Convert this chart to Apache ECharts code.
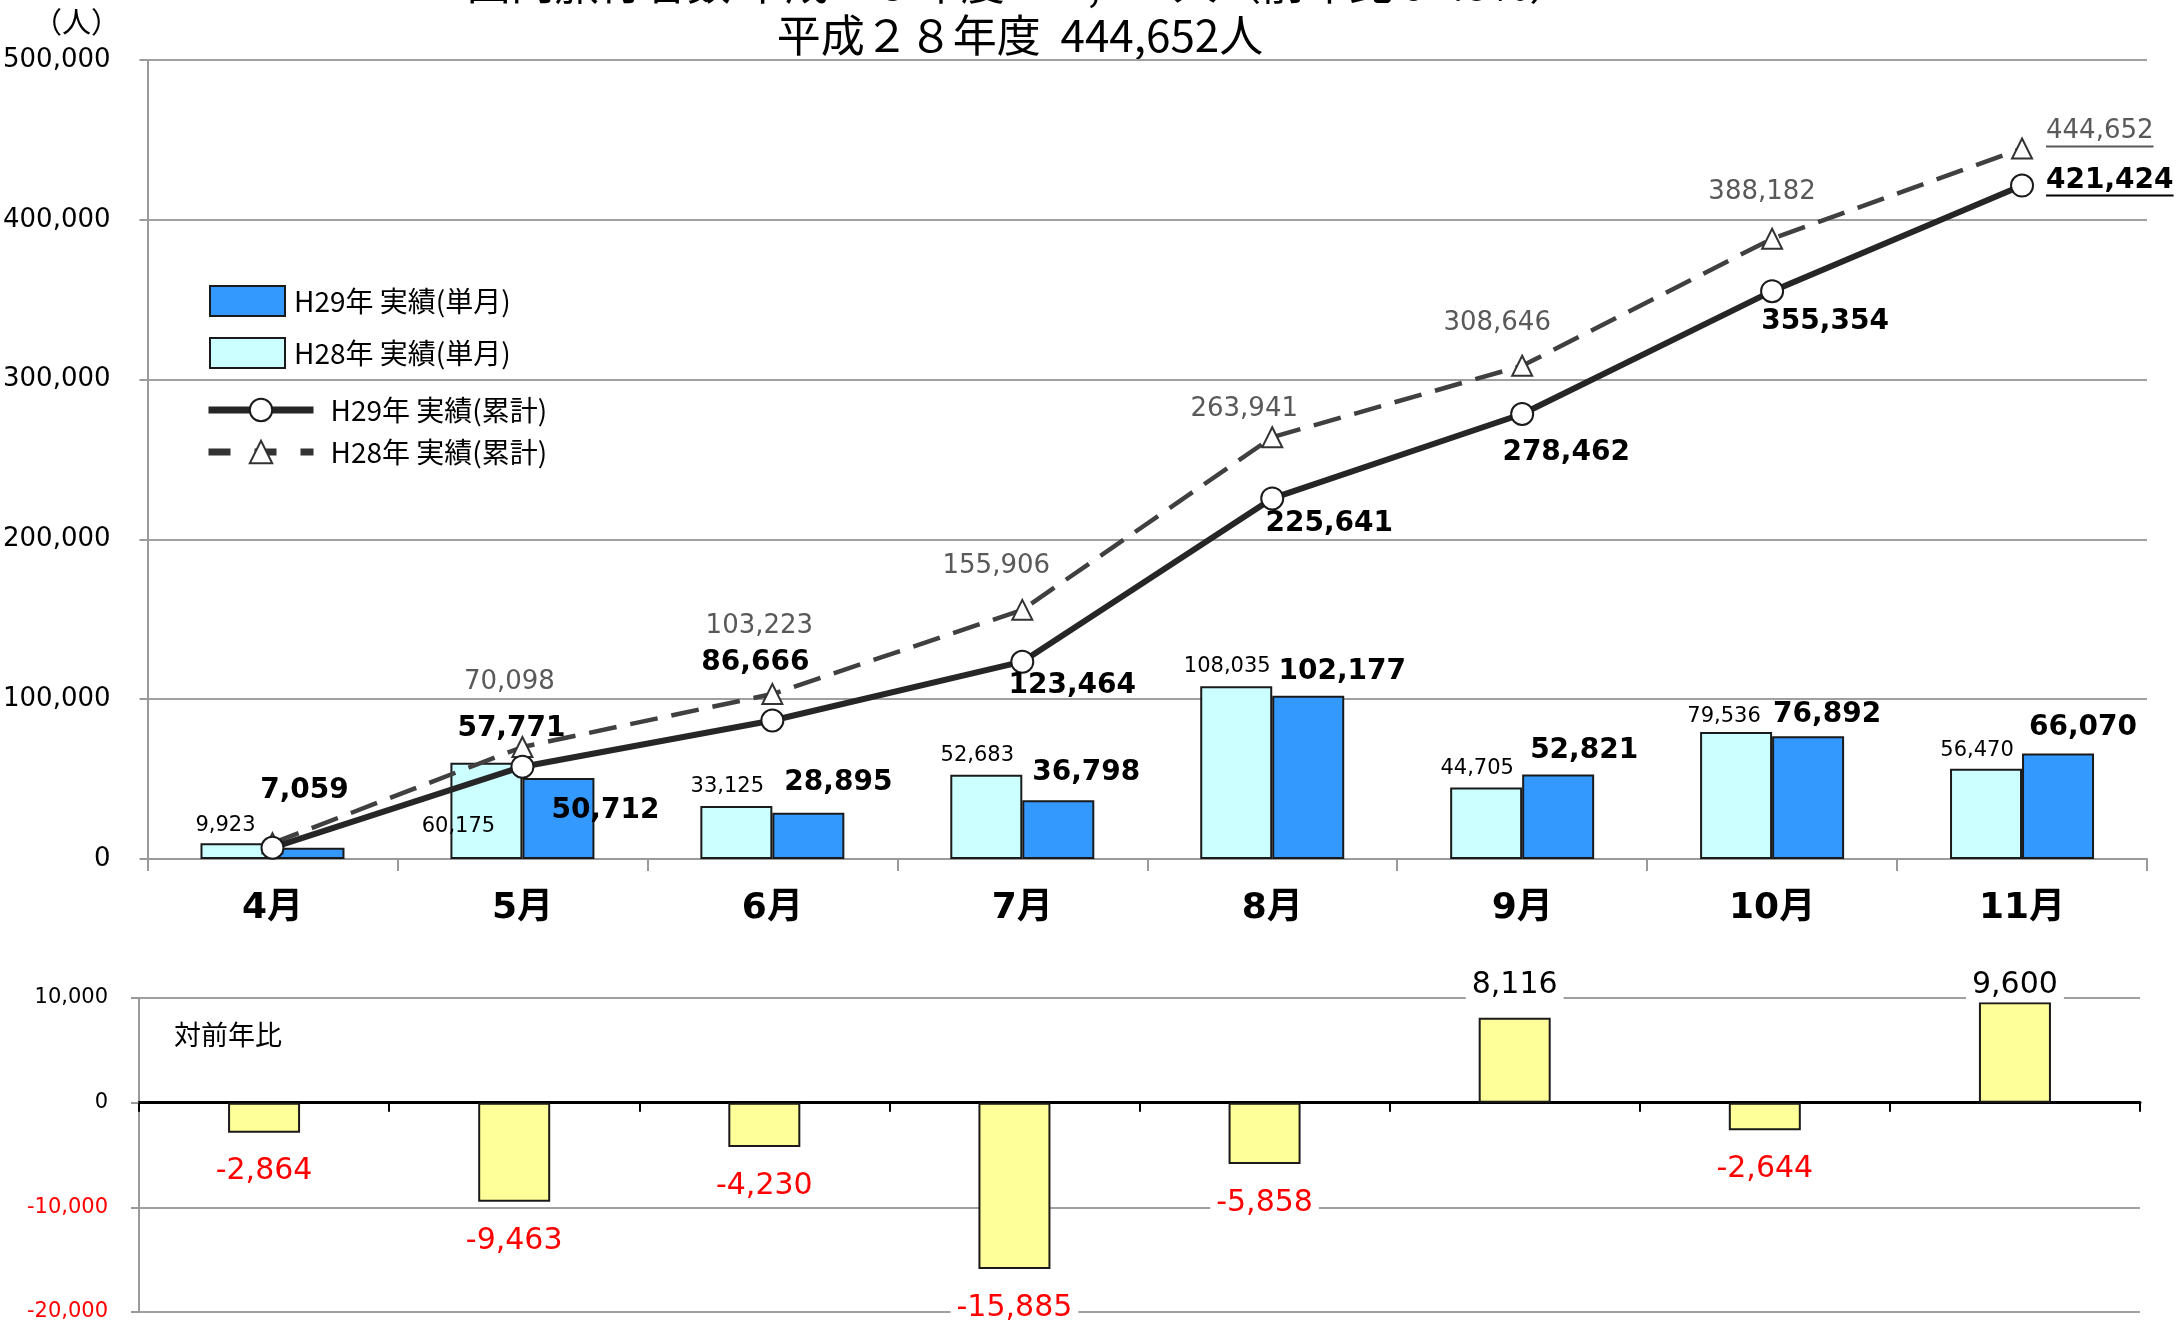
<!DOCTYPE html>
<html><head><meta charset="utf-8">
<script src="https://cdn.jsdelivr.net/npm/echarts@6/dist/echarts.min.js"></script>
<style>html,body{margin:0;padding:0;background:#fff}#c{width:2179px;height:1327px}</style>
</head><body><div id="c"></div>
<script>
// ---- data ----
const categories = ['4月','5月','6月','7月','8月','9月','10月','11月'];
const h28Monthly = [9923, 60175, 33125, 52683, 108035, 44705, 79536, 56470];
const h29Monthly = [7059, 50712, 28895, 36798, 102177, 52821, 76892, 66070];
const h29Cumulative = [7059, 57771, 86666, 123464, 225641, 278462, 355354, 421424];
const h28Cumulative = [9923, 70098, 103223, 155906, 263941, 308646, 388182, 444652];
const yoyDiff = [-2864, -9463, -4230, -15885, -5858, 8116, -2644, 9600];
const seriesNames = ['H29年 実績(単月)', 'H28年 実績(単月)', 'H29年 実績(累計)', 'H28年 実績(累計)'];
const titleLine1 = '国内旅行者数 平成２９年度 421,424人（前年比 94.8%）';
const titleLine2 = '平成２８年度  444,652人';
const unitLabel = '（人）';
const diffLabel = '対前年比';

// ---- styling ----
const NUM = '"DejaVu Sans", "Noto Sans CJK JP", sans-serif';
const JP = '"Noto Sans CJK JP", "DejaVu Sans", sans-serif';
const fmt = v => v.toLocaleString('en-US');

// label offsets (presentation only)
const h28BarOff = [[-11,-7],[-28,74],[-9,-9],[-9,-9],[-9,-9],[-9,-9],[-12,-5],[-9,-8]];
const h29BarOff = [[0,0],[47,47],[30,-16],[28,-13],[34,-10],[26,-10],[19,-7],[25,-12]];
const h29CumOff = [[32,-57],[-11,-38],[-17,-58],[50,24],[57,25],[44,39],[53,31],[24,-5]];
const h28CumOff = [[0,0],[-13,-65],[-13,-68],[-26,-44],[-28,-28],[-25,-43],[-10,-46],[24,-17]];

const chart = echarts.init(document.getElementById('c'), null, {renderer:'canvas'});

const h28BarData = h28Monthly.map((v,i)=>({value:v, label:{offset:h28BarOff[i]}}));
const h29BarData = h29Monthly.map((v,i)=>({value:v, label:{show:i!==0, offset:h29BarOff[i]}}));
const h29CumData = h29Cumulative.map((v,i)=>({value:v, label:{offset:h29CumOff[i], align: i===7?'left':'center'}}));
const h28CumData = h28Cumulative.map((v,i)=>({value:v, label:{show:i!==0, offset:h28CumOff[i], align: i===7?'left':'center'}}));
const diffData = yoyDiff.map(v=>({value:v, label:{position: v<0?'bottom':'top', distance: v<0?22:(v>9000?0:16), color: v<0?'#ff0000':'#000'}}));

const option = {
  animation:false,
  backgroundColor:'#fff',
  grid:[
    {left:143, right:32, top:60, bottom:468},
    {left:139, right:39, top:998, bottom:15}
  ],
  legend:[
    {data:[{name:seriesNames[0], icon:'rect'}, {name:seriesNames[1], icon:'rect'}], orient:'vertical', left:204, top:280, itemWidth:75, itemHeight:30, itemGap:20,
     textStyle:{fontSize:28, fontFamily:JP, color:'#000', padding:[0,0,0,4]}, selectedMode:false},
    {data:[{name:seriesNames[2], lineStyle:{width:7, color:'#262626'}}, {name:seriesNames[3], lineStyle:{width:7, color:'#333', type:[22,24]}}],
     orient:'vertical', left:200, top:391, itemWidth:105, itemHeight:28, itemGap:14,
     textStyle:{fontSize:28, fontFamily:JP, color:'#000', padding:[0,0,0,12]}, selectedMode:false}
  ],
  xAxis:[
    {type:'category', data:categories, gridIndex:0,
     axisLine:{lineStyle:{color:'#9a9a9a', width:2}},
     axisTick:{show:true, length:12, lineStyle:{color:'#9a9a9a', width:2}},
     axisLabel:{fontSize:36, fontWeight:'bold', color:'#000', fontFamily:NUM, margin:32}},
    {type:'category', data:categories, gridIndex:1,
     axisLine:{onZero:true, lineStyle:{color:'#000', width:3}},
     axisTick:{show:true, length:9, lineStyle:{color:'#000', width:2}},
     axisLabel:{show:false}}
  ],
  yAxis:[
    {type:'value', gridIndex:0, min:0, max:500000, interval:100000,
     axisLine:{show:true, lineStyle:{color:'#9a9a9a', width:2}},
     axisTick:{show:true, length:8, lineStyle:{color:'#9a9a9a', width:2}},
     splitLine:{lineStyle:{color:'#a0a0a0', width:2}},
     axisLabel:{fontSize:26, color:'#000', fontFamily:NUM, margin:37, formatter:v=>fmt(v)}},
    {type:'value', gridIndex:1, min:-20000, max:10000, interval:10000,
     axisLine:{show:true, lineStyle:{color:'#9a9a9a', width:2}},
     axisTick:{show:true, length:8, lineStyle:{color:'#9a9a9a', width:2}},
     splitLine:{lineStyle:{color:'#a0a0a0', width:2}},
     axisLabel:{fontSize:21, fontFamily:NUM, margin:31, formatter:v=>fmt(v), color:v=> (Number(v)<0?'#ff0000':'#000')}}
  ],
  series:[
    {name:seriesNames[1], type:'bar', xAxisIndex:0, yAxisIndex:0, data:h28BarData, barWidth:72, barGap:'0%',
     itemStyle:{color:'#ccffff', borderColor:'#1a1a1a', borderWidth:2},
     label:{show:true, position:'top', distance:0, fontSize:21, fontFamily:NUM, color:'#000', formatter:p=>fmt(p.value)}, z:2},
    {name:seriesNames[0], type:'bar', xAxisIndex:0, yAxisIndex:0, data:h29BarData, barWidth:72, barGap:'0%',
     itemStyle:{color:'#3399ff', borderColor:'#1a1a1a', borderWidth:2},
     label:{show:true, position:'top', distance:0, fontSize:28, fontWeight:'bold', fontFamily:NUM, color:'#000', formatter:p=>fmt(p.value)}, z:2},
    {name:seriesNames[3], type:'line', xAxisIndex:0, yAxisIndex:0, data:h28CumData,
     symbol:'triangle', symbolSize:20, showAllSymbol:true,
     lineStyle:{color:'#404040', width:4.5, type:[28,14]},
     itemStyle:{color:'#fff', borderColor:'#333', borderWidth:2},
     label:{show:true, position:'inside', fontSize:26, fontFamily:NUM, color:'#595959', formatter:p=>fmt(p.value)}, z:5},
    {name:seriesNames[2], type:'line', xAxisIndex:0, yAxisIndex:0, data:h29CumData,
     symbol:'circle', symbolSize:22, showAllSymbol:true,
     lineStyle:{color:'#262626', width:6},
     itemStyle:{color:'#fff', borderColor:'#1a1a1a', borderWidth:2},
     label:{show:true, position:'inside', fontSize:28, fontWeight:'bold', fontFamily:NUM, color:'#000', formatter:p=>fmt(p.value)}, z:6},
    {name:'対前年比', type:'bar', xAxisIndex:1, yAxisIndex:1, data:diffData, barWidth:72,
     itemStyle:{color:'#ffff99', borderColor:'#1a1a1a', borderWidth:2},
     label:{show:true, fontSize:30, fontFamily:NUM, backgroundColor:'#fff', padding:[2,6], formatter:p=>fmt(p.value)}}
  ],
  graphic:[
    {type:'text', x:1020, y:-17, style:{text:titleLine1, font:'44px '+JP, fill:'#000', align:'center', verticalAlign:'middle'}},
    {type:'text', x:1020, y:35, style:{text:titleLine2, font:'44px '+JP, fill:'#000', align:'center', verticalAlign:'middle'}},
    {type:'text', x:120, y:22, style:{text:unitLabel, font:'29px '+JP, fill:'#000', align:'right', verticalAlign:'middle'}},
    {type:'text', x:174, y:1035, style:{text:diffLabel, font:'27px '+JP, fill:'#000', align:'left', verticalAlign:'middle'}}
  ]
};
chart.setOption(option);

// underline for last-month labels
const ctx = document.createElement('canvas').getContext('2d');
function underline(id, value, off, font, color){
  const p = chart.convertToPixel({xAxisIndex:0, yAxisIndex:0}, [categories.length-1, value]);
  ctx.font = font;
  const w = ctx.measureText(fmt(value)).width;
  const x0 = p[0] + off[0], y0 = p[1] + off[1] + 15;
  return {type:'line', id:id, shape:{x1:x0, y1:y0, x2:x0+w, y2:y0}, style:{stroke:color, lineWidth:2}, z:10};
}
chart.setOption({graphic:[
  underline('u1', h29Cumulative[7], h29CumOff[7], 'bold 28px "DejaVu Sans"', '#000'),
  underline('u2', h28Cumulative[7], h28CumOff[7], '26px "DejaVu Sans"', '#595959')
]});
</script></body></html>
